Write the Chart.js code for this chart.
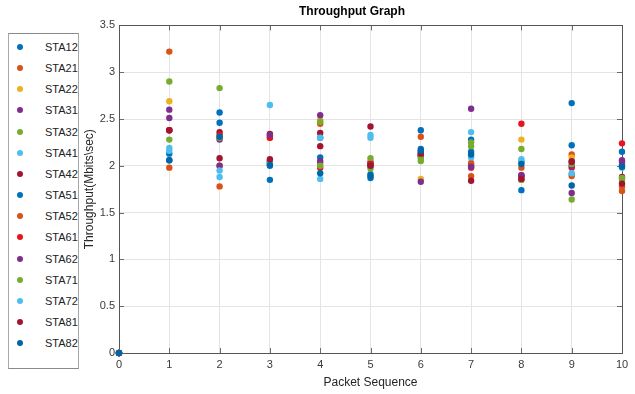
<!DOCTYPE html>
<html>
<head>
<meta charset="utf-8">
<script src="https://cdn.jsdelivr.net/npm/chart.js@4"></script>
<style>
  html, body { margin: 0; padding: 0; background: #fff; }
  #wrap { position: relative; width: 635px; height: 394px; }
  #chart { position: absolute; left: 0; top: 0; }
  #legend {
    position: absolute; left: 8px; top: 33px; width: 69px; height: 334px;
    border: 1px solid #a8a8a8; border-top-color: #8a8a8a; border-bottom-color: #8a8a8a;
    background: #fff; font-family: "Liberation Sans", Arial, sans-serif; font-size: 11px; color: #222;
  }
  .item { position: absolute; left: 0; height: 14px; line-height: 14px; }
  .dot { position: absolute; left: 8px; top: 4px; width: 6px; height: 6px; border-radius: 50%; }
  .lbl { position: absolute; left: 36px; top: 0; white-space: nowrap; }
</style>
</head>
<body>
<div id="wrap">
  <canvas id="chart" width="635" height="394"></canvas>
  <div id="legend"></div>
</div>
<script>
// Packet sequence (x) and per-station throughput (Mbits/sec)
var packets = [0, 1, 2, 3, 4, 5, 6, 7, 8, 9, 10];
var stations = ['STA12', 'STA21', 'STA22', 'STA31', 'STA32', 'STA41', 'STA42', 'STA51',
                'STA52', 'STA61', 'STA62', 'STA71', 'STA72', 'STA81', 'STA82'];

var STA12 = [0, 2.13, 2.57, 2.00, 2.09, 1.91, 2.18, 2.28, 2.04, 2.67, 2.15];
var STA21 = [0, 3.22, 1.78, 2.30, 2.45, 2.04, 2.31, 1.89, 1.98, 2.12, 1.73];
var STA22 = [0, 2.69, 2.30, 2.32, 2.49, 2.00, 1.86, 2.02, 2.28, 2.09, 1.86];
var STA31 = [0, 2.60, 2.28, 2.05, 2.54, 2.03, 2.10, 2.61, 1.88, 1.71, 2.06];
var STA32 = [0, 2.90, 2.83, 2.03, 2.47, 2.08, 2.05, 2.25, 2.18, 1.64, 1.85];
var STA41 = [0, 2.19, 1.88, 2.65, 1.86, 2.33, 2.12, 2.36, 2.07, 1.91, 2.01];
var STA42 = [0, 2.38, 2.36, 2.34, 2.35, 2.42, 2.11, 2.00, 1.90, 2.05, 1.88];
var STA51 = [0, 2.06, 2.46, 1.85, 2.30, 1.87, 2.38, 2.15, 1.74, 2.22, 2.00];
var STA52 = [0, 1.98, 2.00, 2.04, 2.03, 2.02, 2.13, 2.03, 1.85, 1.89, 1.78];
var STA61 = [0, 2.38, 2.33, 2.30, 1.98, 2.02, 2.15, 1.98, 2.45, 1.98, 2.24];
var STA62 = [0, 2.51, 2.00, 2.33, 2.05, 2.00, 1.83, 1.99, 1.90, 2.00, 2.04];
var STA71 = [0, 2.28, 2.30, 2.05, 2.00, 1.97, 2.08, 2.21, 1.85, 2.02, 1.87];
var STA72 = [0, 2.16, 1.95, 2.02, 2.30, 2.30, 2.14, 2.09, 2.05, 1.92, 1.98];
var STA81 = [0, 2.38, 2.08, 2.07, 2.21, 2.00, 2.13, 1.84, 1.86, 2.04, 1.81];
var STA82 = [0, 2.06, 2.31, 2.01, 1.92, 1.89, 2.16, 2.12, 2.02, 1.79, 1.99];

var series = [STA12, STA21, STA22, STA31, STA32, STA41, STA42, STA51,
              STA52, STA61, STA62, STA71, STA72, STA81, STA82];
var colors = ['#0072BD', '#D95319', '#EDB120', '#7E2F8E', '#77AC30', '#4DBEEE', '#A2142F', '#0072BD',
              '#D95319', '#E8141C', '#7E2F8E', '#77AC30', '#4DBEEE', '#A2142F', '#0066A8'];

var yTicks = [0, 0.5, 1, 1.5, 2, 2.5, 3, 3.5];
var FONT = '"Liberation Sans", Arial, sans-serif';

// legend
var legend = document.getElementById('legend');
stations.forEach(function (name, i) {
  var it = document.createElement('div');
  it.className = 'item';
  it.style.top = (6 + i * 21.15) + 'px';
  it.style.width = '100%';
  it.innerHTML = '<span class="dot" style="background:' + colors[i] + '"></span><span class="lbl">' + name + '</span>';
  legend.appendChild(it);
});

// axes box with inward tick marks, MATLAB style
var boxPlugin = {
  id: 'box',
  beforeDatasetsDraw: function (chart) {
    var ctx = chart.ctx, a = chart.chartArea;
    var xs = chart.scales.x, ys = chart.scales.y;
    ctx.save();
    ctx.strokeStyle = '#6b6b6b';
    ctx.lineWidth = 1;
    ctx.beginPath();
    xs.ticks.forEach(function (t) {
      var px = Math.round(xs.getPixelForValue(t.value)) + 0.5;
      ctx.moveTo(px, a.bottom); ctx.lineTo(px, a.bottom - 5);
      ctx.moveTo(px, a.top); ctx.lineTo(px, a.top + 5);
    });
    ys.ticks.forEach(function (t) {
      var py = Math.round(ys.getPixelForValue(t.value)) + 0.5;
      ctx.moveTo(a.left, py); ctx.lineTo(a.left + 5, py);
      ctx.moveTo(a.right, py); ctx.lineTo(a.right - 5, py);
    });
    ctx.stroke();
    ctx.strokeStyle = '#555';
    ctx.strokeRect(Math.round(a.left) + 0.5, Math.round(a.top) + 0.5,
                   Math.round(a.right - a.left), Math.round(a.bottom - a.top));
    ctx.restore();
  }
};

var datasets = stations.map(function (name, i) {
  return {
    label: name,
    data: packets.map(function (p, j) { return { x: p, y: series[i][j] }; }),
    backgroundColor: colors[i],
    borderWidth: 0,
    pointRadius: 3.2,
    pointHoverRadius: 3.2,
    clip: false,
    order: stations.length - i
  };
});

new Chart(document.getElementById('chart'), {
  type: 'scatter',
  data: { datasets: datasets },
  plugins: [boxPlugin],
  options: {
    responsive: false,
    animation: false,
    events: [],
    layout: { padding: { left: 82, right: 13, top: 0, bottom: 4 } },
    plugins: {
      legend: { display: false },
      tooltip: { enabled: false },
      title: {
        display: true,
        text: 'Throughput Graph',
        color: '#000',
        font: { family: FONT, size: 12, weight: 'bold' },
        padding: { top: 4, bottom: 7 }
      }
    },
    scales: {
      x: {
        type: 'linear', min: 0, max: 10,
        afterBuildTicks: function (s) { s.ticks = packets.map(function (v) { return { value: v }; }); },
        afterFit: function (s) { s.height = 37; },
        grid: { color: '#e4e4e4', drawTicks: false },
        border: { display: false },
        ticks: { color: '#3a3a3a', font: { family: FONT, size: 11 }, padding: 5, maxRotation: 0,
                 callback: function (v) { return String(v); } },
        title: { display: true, text: 'Packet Sequence', color: '#262626', font: { family: FONT, size: 12 }, padding: { top: 2, bottom: 0 } }
      },
      y: {
        type: 'linear', min: 0, max: 3.5,
        afterBuildTicks: function (s) { s.ticks = yTicks.map(function (v) { return { value: v }; }); },
        afterFit: function (s) { s.width = 37; },
        grid: { color: '#e4e4e4', drawTicks: false },
        border: { display: false },
        ticks: { color: '#3a3a3a', font: { family: FONT, size: 11 }, padding: 4,
                 callback: function (v) { return String(v); } },
        title: { display: true, text: 'Throughput(Mbits\\sec)', color: '#262626', font: { family: FONT, size: 12 }, padding: { top: 0, bottom: 0 } }
      }
    }
  }
});
</script>
</body>
</html>
